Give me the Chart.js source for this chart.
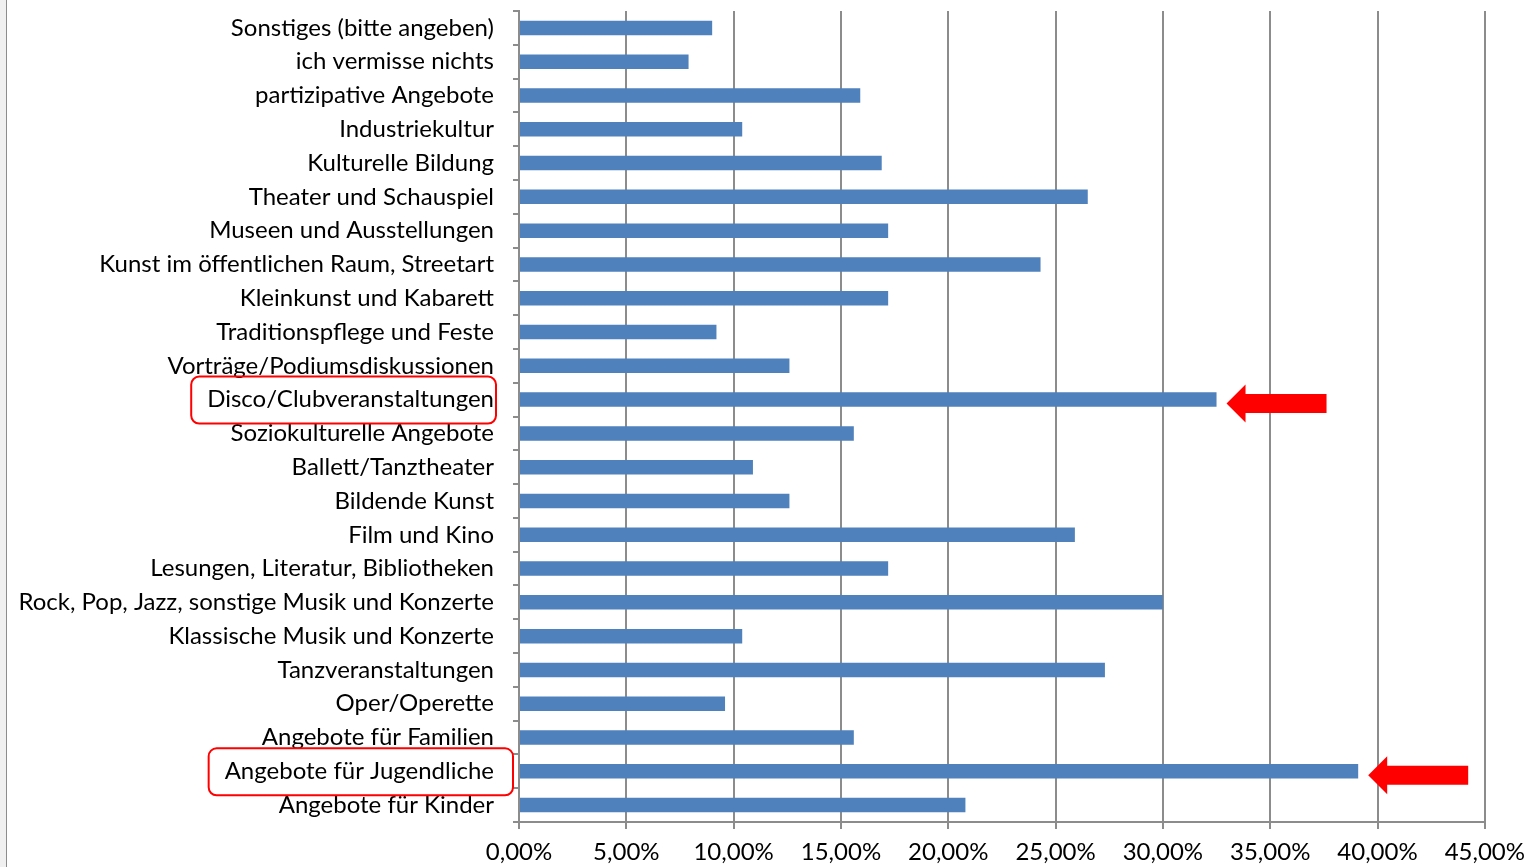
<!DOCTYPE html>
<html>
<head>
<meta charset="utf-8">
<script src="https://cdn.jsdelivr.net/npm/chart.js@4.4.1/dist/chart.umd.min.js"></script>
<style>
    body { margin: 0; background: #fff; }
    #wrap { position: relative; width: 1534px; height: 867px; }
    #edge { position: absolute; left: 0; top: 0; width: 6px; height: 867px; background: #f0f0f0; border-right: 1px solid #8c8c8c; }
</style>
</head>
<body>
<div id="wrap">
    <canvas id="barChart" width="1534" height="867"></canvas>
    <div id="edge"></div>
</div>
<script>
// categories, top to bottom
const categories = [
    'Sonstiges (bitte angeben)',
    'ich vermisse nichts',
    'partizipative Angebote',
    'Industriekultur',
    'Kulturelle Bildung',
    'Theater und Schauspiel',
    'Museen und Ausstellungen',
    'Kunst im öffentlichen Raum, Streetart',
    'Kleinkunst und Kabarett',
    'Traditionspflege und Feste',
    'Vorträge/Podiumsdiskussionen',
    'Disco/Clubveranstaltungen',
    'Soziokulturelle Angebote',
    'Ballett/Tanztheater',
    'Bildende Kunst',
    'Film und Kino',
    'Lesungen, Literatur, Bibliotheken',
    'Rock, Pop, Jazz, sonstige Musik und Konzerte',
    'Klassische Musik und Konzerte',
    'Tanzveranstaltungen',
    'Oper/Operette',
    'Angebote für Familien',
    'Angebote für Jugendliche',
    'Angebote für Kinder'
];

// share in percent
const values = [
    9.0, 7.9, 15.9, 10.4, 16.9, 26.5, 17.2, 24.3, 17.2, 9.2, 12.6, 32.5,
    15.6, 10.9, 12.6, 25.9, 17.2, 30.0, 10.4, 27.3, 9.6, 15.6, 39.1, 20.8
];

const xTicks = [0, 5, 10, 15, 20, 25, 30, 35, 40, 45];

// categories marked with a red box and arrow
const highlighted = ['Disco/Clubveranstaltungen', 'Angebote für Jugendliche'];
const boxRightPad = [2, 19];

const fontFamily = 'Lato, "Open Sans", sans-serif';
const labelFont = '24px ' + fontFamily;

const markPlugin = {
    id: 'marks',
    afterDraw(chart) {
        const ctx = chart.ctx;
        const xs = chart.scales.x;
        const ys = chart.scales.y;
        ctx.save();
        highlighted.forEach(function(name, k) {
            const i = categories.indexOf(name);
            const y = ys.getPixelForValue(i);

            // arrow pointing at the bar end
            const tip = xs.getPixelForValue(values[i]) + 10;
            const ay = y + 4;
            const len = 100, head = 19, body = 9.5, hh = 19;
            ctx.fillStyle = '#ff0000';
            ctx.beginPath();
            ctx.moveTo(tip, ay);
            ctx.lineTo(tip + head, ay - hh);
            ctx.lineTo(tip + head, ay - body);
            ctx.lineTo(tip + len, ay - body);
            ctx.lineTo(tip + len, ay + body);
            ctx.lineTo(tip + head, ay + body);
            ctx.lineTo(tip + head, ay + hh);
            ctx.closePath();
            ctx.fill();

            // rounded box round the label
            ctx.font = labelFont;
            const right = ys.right - 6 - 19;
            const w = ctx.measureText(name).width;
            const x0 = right - w - 16;
            const x1 = right + boxRightPad[k];
            ctx.strokeStyle = '#ff0000';
            ctx.lineWidth = 2;
            ctx.beginPath();
            ctx.roundRect(x0, y - 23, x1 - x0, 47, 8);
            ctx.stroke();
        });
        ctx.restore();
    }
};

const ctx = document.getElementById('barChart').getContext('2d');
new Chart(ctx, {
    type: 'bar',
    data: {
        labels: categories,
        datasets: [{
            data: values,
            backgroundColor: '#4f81bd',
            borderWidth: 0,
            barPercentage: 0.43,
            categoryPercentage: 1.0
        }]
    },
    options: {
        indexAxis: 'y',
        responsive: false,
        animation: false,
        layout: { padding: { top: 11, right: 47, bottom: 0, left: 0 } },
        plugins: {
            legend: { display: false },
            tooltip: { enabled: false }
        },
        scales: {
            x: {
                min: 0,
                max: 45,
                afterBuildTicks(scale) {
                    scale.ticks = xTicks.map(v => ({ value: v }));
                },
                afterFit(scale) { scale.height = 45; },
                grid: { color: '#8c8c8c', lineWidth: 2, tickLength: 7 },
                border: { color: '#8c8c8c', width: 2 },
                ticks: {
                    color: '#000',
                    padding: 9,
                    font: { family: fontFamily, size: 24 },
                    maxRotation: 0,
                    callback: v => v.toFixed(2).replace('.', ',') + '%'
                }
            },
            y: {
                afterFit(scale) {
                    scale.width = 519;
                    scale.paddingTop = 0;
                    scale.paddingBottom = 0;
                },
                grid: { drawOnChartArea: false, color: '#8c8c8c', lineWidth: 2, tickLength: 6, offset: true },
                border: { color: '#8c8c8c', width: 2 },
                ticks: {
                    color: '#000',
                    padding: 19,
                    autoSkip: false,
                    font: { family: fontFamily, size: 24 }
                }
            }
        }
    },
    plugins: [markPlugin]
});
</script>
</body>
</html>
